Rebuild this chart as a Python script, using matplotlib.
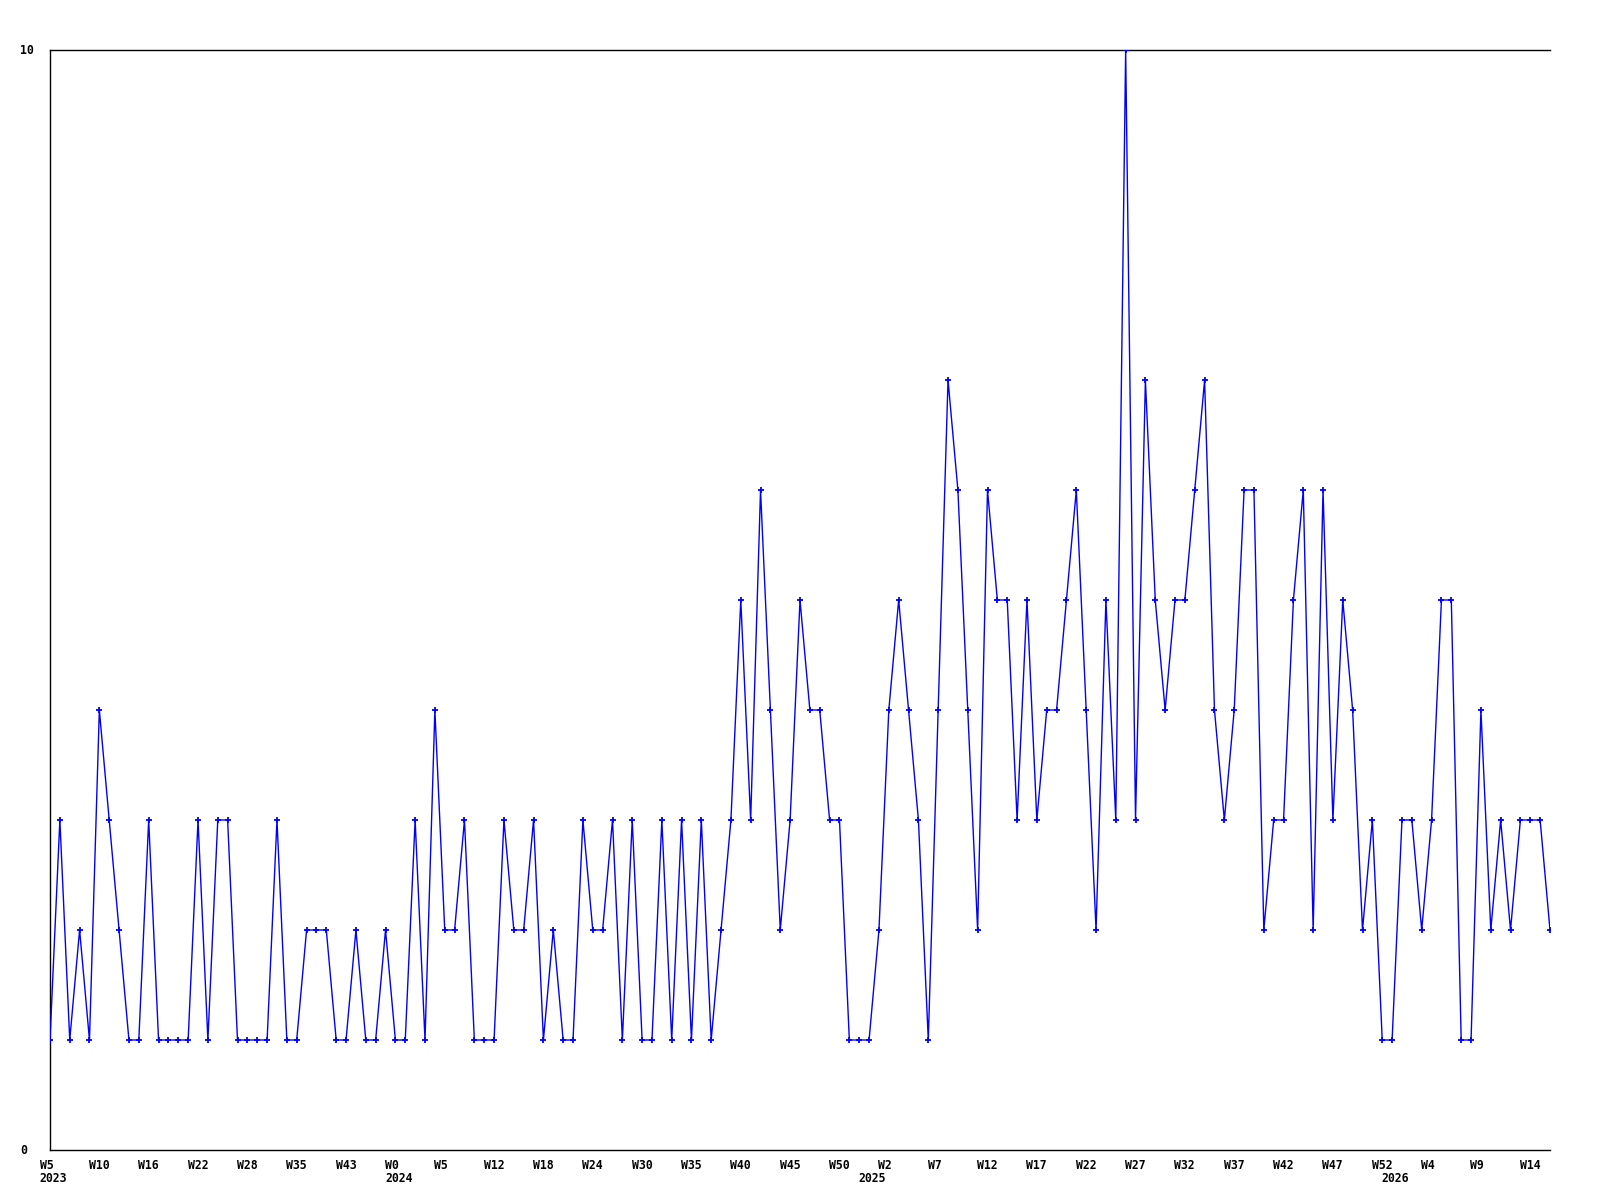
import matplotlib
matplotlib.use("Agg")
import matplotlib.pyplot as plt
import matplotlib.transforms as mtransforms
import numpy as np

# Weekly counts, W5 2023 .. W16 2026
COUNTS = [
    1, 3, 1, 2, 1, 4, 3, 2, 1, 1,
    3, 1, 1, 1, 1, 3, 1, 3, 3, 1,
    1, 1, 1, 3, 1, 1, 2, 2, 2, 1,
    1, 2, 1, 1, 2, 1, 1, 3, 1, 4,
    2, 2, 3, 1, 1, 1, 3, 2, 2, 3,
    1, 2, 1, 1, 3, 2, 2, 3, 1, 3,
    1, 1, 3, 1, 3, 1, 3, 1, 2, 3,
    5, 3, 6, 4, 2, 3, 5, 4, 4, 3,
    3, 1, 1, 1, 2, 4, 5, 4, 3, 1,
    4, 7, 6, 4, 2, 6, 5, 5, 3, 5,
    3, 4, 4, 5, 6, 4, 2, 5, 3, 10,
    3, 7, 5, 4, 5, 5, 6, 7, 4, 3,
    4, 6, 6, 2, 3, 3, 5, 6, 2, 6,
    3, 5, 4, 2, 3, 1, 1, 3, 3, 2,
    3, 5, 5, 1, 1, 4, 2, 3, 2, 3,
    3, 3, 2,
]

WEEK_LABELS = ["W5", "W10", "W16", "W22", "W28", "W35", "W43", "W0", "W5", "W12",
               "W18", "W24", "W30", "W35", "W40", "W45", "W50", "W2", "W7", "W12",
               "W17", "W22", "W27", "W32", "W37", "W42", "W47", "W52", "W4", "W9",
               "W14"]
WEEK_LABEL_IDX = list(range(0, 151, 5))

YEAR_LABELS = ["2023", "2024", "2025", "2026"]
YEAR_LABEL_IDX = [0, 35, 83, 136]

Y_MAX = 10

DPI = 100
fig = plt.figure(figsize=(16, 12), dpi=DPI)
fig.patch.set_facecolor("white")
ax = fig.add_axes([50 / 1600, 50 / 1200, 1500 / 1600, 1100 / 1200])

x = np.arange(len(COUNTS))
blue = "#0000ff"
ax.plot(x, COUNTS, color=blue, lw=1.0, marker="+", markersize=5,
        markeredgewidth=1.3, clip_on=True, zorder=3)

ax.set_xlim(0, len(COUNTS) - 1)
ax.set_ylim(0, Y_MAX)
ax.set_xticks([])
ax.set_yticks([])
for side in ["right", "top"]:
    ax.spines[side].set_visible(False)
for side in ["left", "bottom"]:
    ax.spines[side].set_linewidth(1.0)
    ax.spines[side].set_color("black")
ax.axhline(Y_MAX, color="black", lw=1.0, zorder=2, clip_on=False)

font = dict(family="DejaVu Sans Mono", fontweight="bold", fontsize=8.3, color="black")

# x labels: left-aligned slightly before each point
shift = mtransforms.offset_copy(ax.transData, fig=fig, x=-10.5, y=0, units="dots")
bx = mtransforms.blended_transform_factory(shift, ax.transAxes)
for i, lab in zip(WEEK_LABEL_IDX, WEEK_LABELS):
    ax.text(i, 0, lab, transform=bx, ha="left", va="top", **font)
    # push below axis via offset
for t in ax.texts:
    t.set_transform(t.get_transform() + mtransforms.Affine2D().translate(0, -9))
for i, lab in zip(YEAR_LABEL_IDX, YEAR_LABELS):
    t = ax.text(i, 0, lab, transform=bx, ha="left", va="top", **font)
    t.set_transform(t.get_transform() + mtransforms.Affine2D().translate(0, -22))

# y labels at left edge of the figure
by = mtransforms.blended_transform_factory(fig.transFigure, ax.transData)
for v in [0, Y_MAX]:
    ax.text(20 / 1600, v, str(v), transform=by, ha="left", va="center", **font)

fig.savefig("out.png", dpi=DPI, facecolor="white")
